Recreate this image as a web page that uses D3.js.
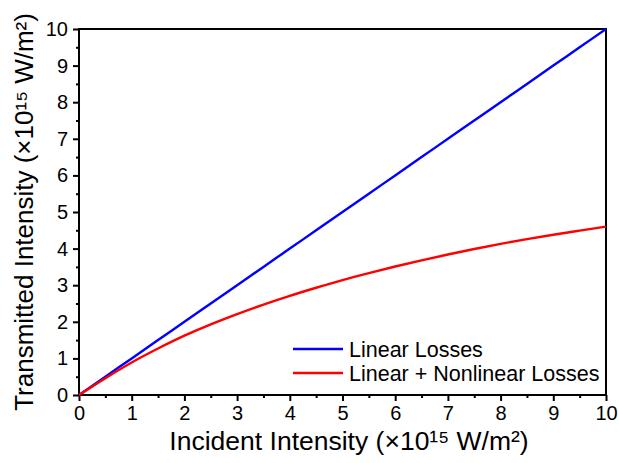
<!DOCTYPE html>
<html><head><meta charset="utf-8">
<script src="https://cdn.jsdelivr.net/npm/d3@7"></script>
<style>body{margin:0;background:#fff}svg{display:block}text{font-family:"Liberation Sans",Arial,sans-serif}</style>
</head><body><svg id="c" width="619" height="463"></svg>
<script>
const xTicks = [0,1,2,3,4,5,6,7,8,9,10];
const yTicks = [0,1,2,3,4,5,6,7,8,9,10];
const incident = [0,0.5,1,1.5,2,2.5,3,3.5,4,4.5,5,5.5,6,6.5,7,7.5,8,8.5,9,9.5,10];
const linearLosses = [0,0.5,1,1.5,2,2.5,3,3.5,4,4.5,5,5.5,6,6.5,7,7.5,8,8.5,9,9.5,10];
const nonlinearLosses = [0,0.46,0.89,1.27,1.62,1.93,2.21,2.47,2.71,2.93,3.14,3.33,3.51,3.68,3.84,3.99,4.13,4.26,4.38,4.49,4.6];
const seriesNames = ["Linear Losses","Linear + Nonlinear Losses"];
const seriesColors = ["#0000ff","#ff0000"];
const xTitle = "Incident Intensity (×10¹⁵ W/m²)";
const yTitle = "Transmitted Intensity (×10¹⁵ W/m²)";

const svg = d3.select("#c");
const L=79,R=606,T=29,B=395;
const x = d3.scaleLinear().domain([0,10]).range([L,R]);
const y = d3.scaleLinear().domain([0,10]).range([B,T]);

const minor = d3.range(0.5,10,1);
const gx = svg.append("g").attr("transform",`translate(0,${B})`);
gx.call(d3.axisBottom(x).tickValues(xTicks).tickSize(6).tickPadding(5).tickFormat(d3.format("d")));
gx.append("g").call(d3.axisBottom(x).tickValues(minor).tickSize(3).tickFormat(""));
const gy = svg.append("g").attr("transform",`translate(${L},0)`);
gy.call(d3.axisLeft(y).tickValues(yTicks).tickSize(6).tickPadding(5).tickFormat(d3.format("d")));
gy.append("g").call(d3.axisLeft(y).tickValues(minor).tickSize(3).tickFormat(""));
svg.selectAll(".domain").remove();
svg.selectAll(".tick line").attr("stroke","#000").attr("stroke-width",2);
svg.selectAll(".tick text").attr("font-size",20).attr("fill","#000").attr("font-family","Liberation Sans, Arial, sans-serif");

svg.append("rect").attr("x",L).attr("y",T).attr("width",R-L).attr("height",B-T)
  .attr("fill","none").attr("stroke","#000").attr("stroke-width",2);

const line = d3.line().x((d,i)=>x(incident[i])).y(d=>y(d)).curve(d3.curveNatural);
[linearLosses,nonlinearLosses].forEach((s,i)=>{
  svg.append("path").attr("d",line(s)).attr("fill","none").attr("stroke",seriesColors[i]).attr("stroke-width",2.4);
});

seriesNames.forEach((n,i)=>{
  const yy = 349 + i*24;
  svg.append("line").attr("x1",293).attr("x2",343).attr("y1",yy).attr("y2",yy).attr("stroke",seriesColors[i]).attr("stroke-width",2.4);
  svg.append("text").attr("x",349).attr("y",yy+8).attr("font-size",21.5).text(n);
});

svg.append("text").attr("x",349).attr("y",450).attr("text-anchor","middle").attr("font-size",26.5).text(xTitle);
svg.append("text").attr("transform",`translate(33,${(T+B)/2}) rotate(-90)`).attr("text-anchor","middle").attr("font-size",26).text(yTitle);
</script></body></html>
